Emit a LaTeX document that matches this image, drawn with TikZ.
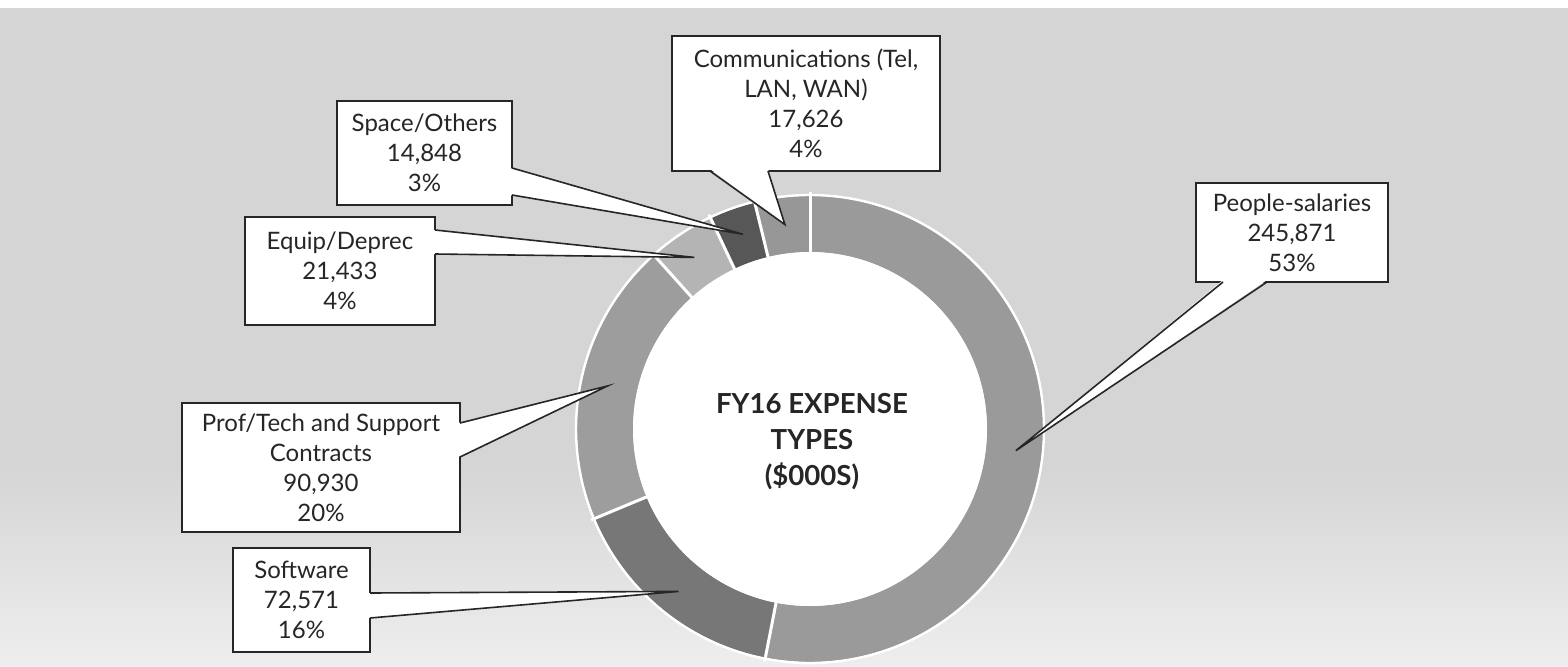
\documentclass[tikz,border=0pt]{standalone}
\usepackage{fontspec}
\setmainfont{Lato}
\definecolor{bggray}{HTML}{D5D5D5}
\definecolor{bglight}{HTML}{EEEEEE}
\definecolor{segpeople}{HTML}{9A9A9A}
\definecolor{segsoft}{HTML}{777777}
\definecolor{segprof}{HTML}{9D9D9D}
\definecolor{segequip}{HTML}{B4B4B4}
\definecolor{segspace}{HTML}{575757}
\definecolor{segcomm}{HTML}{979797}
\definecolor{txt}{HTML}{262626}

\begin{document}
\begin{tikzpicture}[x=0.5pt,y=0.5pt,
    lbl/.style={draw=black!85, line width=1pt, fill=white, inner sep=0pt, outer sep=0pt,
        align=center, text=txt, font=\fontsize{12}{15}\selectfont},
    lead/.style={draw=black!85, line width=0.8pt},
    sep/.style={draw=white, line width=1.5pt}]
        \useasboundingbox (0,0) rectangle (1568,666);
        % scanned page behind the chart
        \fill[bggray] (0,0) rectangle (1568,666);
        \shade[top color=bggray, bottom color=bglight] (0,0) rectangle (1568,200);
        \fill[white] (0,658) rectangle (1568,666);
        % ring
        \coordinate (O) at (810,237);
        \begin{scope}[shift={(O)}]
            \foreach \a/\b/\c in {90/-101.05/segpeople, -101.05/-157.43/segsoft, 202.57/131.91/segprof,
                131.91/115.25/segequip, 115.25/103.71/segspace, 103.71/90/segcomm}
                \fill[\c] (\a:233) arc[start angle=\a, end angle=\b, radius=233]
                    -- (\b:177) arc[start angle=\b, end angle=\a, radius=177] -- cycle;
            \foreach \a in {90,-101.05,202.57,131.91,115.25,103.71}
                \draw[sep] (\a:174) -- (\a:237);
            \draw[white, line width=1.2pt] (0,0) circle[radius=234];
            \fill[white] (0,0) circle[radius=177];
            \coordinate (tcomm) at (97:206);
            \coordinate (tspace) at (109:206);
            \coordinate (tequip) at (124:207);
            \coordinate (tprof) at (168:207);
            \coordinate (tsoft) at (231:209);
            \coordinate (tpeople) at (-6:207);
        \end{scope}
        \node[font=\bfseries\fontsize{13.8}{18}\selectfont, text=txt, align=center] (ttl) at (812,224) {FY16 EXPENSE\\TYPES\\(\$000S)};
        % labels
        \node[lbl, minimum width=134pt, minimum height=67.5pt] (comm) at (806,562.5) {Communications (Tel,\\LAN, WAN)\\17,626\\4\%};
        \node[lbl, minimum width=87.5pt, minimum height=52pt] (space) at (424.5,513) {Space/Others\\14,848\\3\%};
        \node[lbl, minimum width=95pt, minimum height=54pt] (equip) at (340,395) {Equip/Deprec\\21,433\\4\%};
        \node[lbl, minimum width=139pt, minimum height=64.5pt] (prof) at (321,198.5) {Prof/Tech and Support\\Contracts\\90,930\\20\%};
        \node[lbl, minimum width=68.5pt, minimum height=52pt] (soft) at (301.5,66) {Software\\72,571\\16\%};
        \node[lbl, minimum width=96pt, minimum height=49.5pt] (people) at (1292,433.5) {People-salaries\\245,871\\53\%};
        % pointers
        \fill[white] ([shift={(19pt,1pt)}]comm.south west) -- (tcomm) -- ([shift={(48pt,1pt)}]comm.south west) -- cycle;
        \draw[lead] ([xshift=19pt]comm.south west) -- (tcomm) -- ([xshift=48pt]comm.south west);
        \fill[white] ([shift={(-1pt,-33.5pt)}]space.north east) -- (tspace) -- ([shift={(-1pt,-47pt)}]space.north east) -- cycle;
        \draw[lead] ([yshift=-33.5pt]space.north east) -- (tspace) -- ([yshift=-47pt]space.north east);
        \fill[white] ([shift={(-1pt,-6.5pt)}]equip.north east) -- (tequip) -- ([shift={(-1pt,-18.5pt)}]equip.north east) -- cycle;
        \draw[lead] ([yshift=-6.5pt]equip.north east) -- (tequip) -- ([yshift=-18.5pt]equip.north east);
        \fill[white] ([shift={(-1pt,-10pt)}]prof.north east) -- (tprof) -- ([shift={(-1pt,-27pt)}]prof.north east) -- cycle;
        \draw[lead] ([yshift=-10pt]prof.north east) -- (tprof) -- ([yshift=-27pt]prof.north east);
        \fill[white] ([shift={(-1pt,-22.5pt)}]soft.north east) -- (tsoft) -- ([shift={(-1pt,-35pt)}]soft.north east) -- cycle;
        \draw[lead] ([yshift=-22.5pt]soft.north east) -- (tsoft) -- ([yshift=-35pt]soft.north east);
        \fill[white] ([shift={(13.5pt,1pt)}]people.south west) -- (tpeople) -- ([shift={(35.5pt,1pt)}]people.south west) -- cycle;
        \draw[lead] ([xshift=13.5pt]people.south west) -- (tpeople) -- ([xshift=35.5pt]people.south west);
\end{tikzpicture}
\end{document}
